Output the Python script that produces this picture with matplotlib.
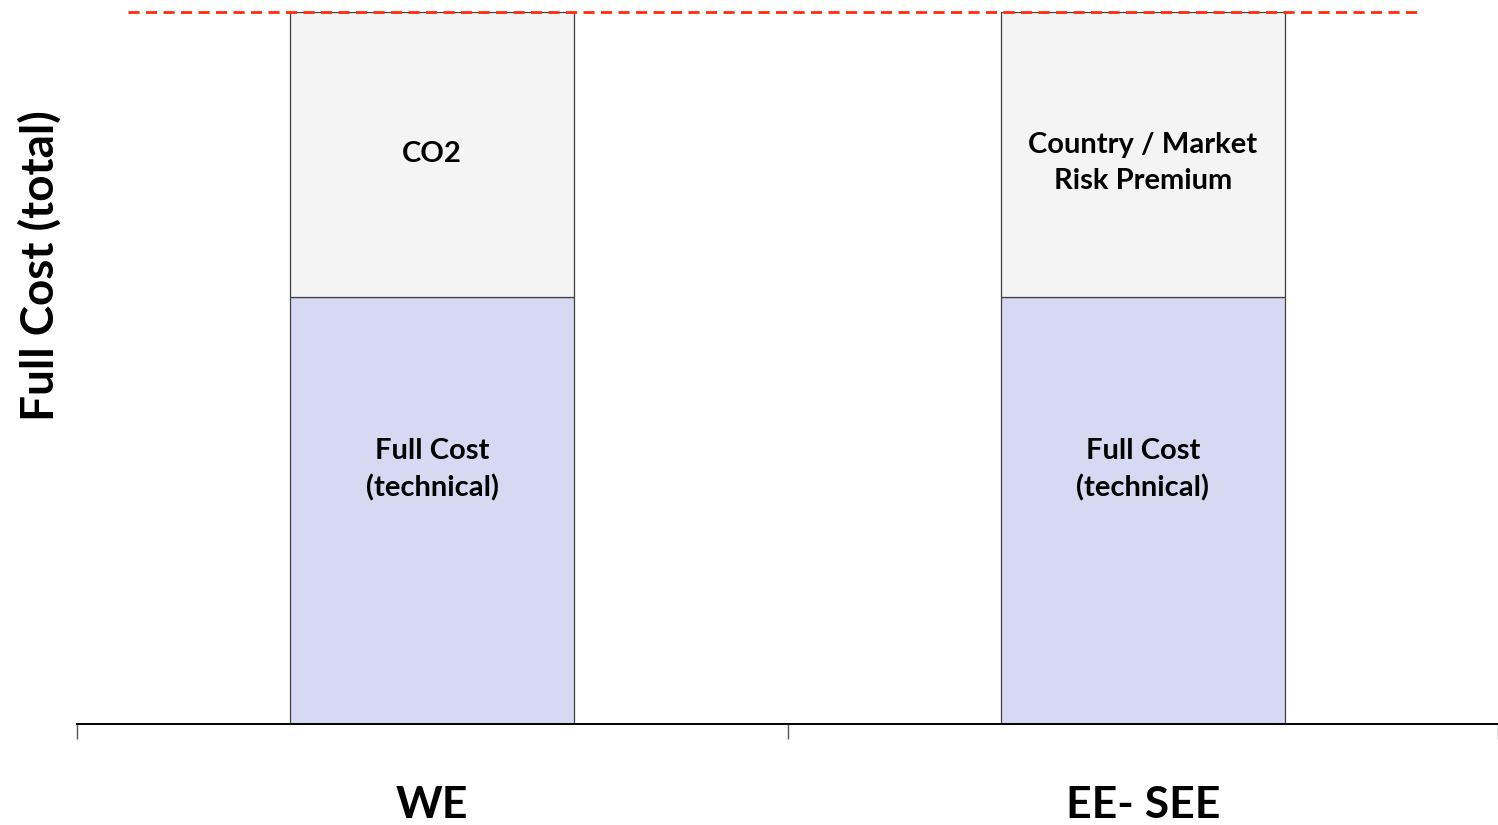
import matplotlib
matplotlib.use("Agg")
import matplotlib.pyplot as plt
import numpy as np

categories = ["WE", "EE- SEE"]
base_values = [60, 60]
top_values = [40, 40]
base_labels = ["Full Cost\n(technical)", "Full Cost\n(technical)"]
top_labels = ["CO2", "Country / Market\nRisk Premium"]
y_label = "Full Cost (total)"

plt.rcParams['font.family'] = ['Lato', 'DejaVu Sans']

W, H = 1498, 825
fig = plt.figure(figsize=(W / 100, H / 100), dpi=100)
ax = fig.add_axes([77 / W, 1 - 724 / H, (1498 - 77) / W, (724 - 12) / H])

x = np.arange(len(categories))
width = 0.4
ax.bar(x, base_values, width, color="#D7D8F2", edgecolor="#404040", linewidth=0.9)
ax.bar(x, top_values, width, bottom=base_values, color="#F4F4F4", edgecolor="#404040", linewidth=0.9)

total = max(b + t for b, t in zip(base_values, top_values))
ax.set_xlim(-0.5, len(categories) - 0.5)
ax.set_ylim(0, total)

for i in range(len(categories)):
    ax.text(x[i], base_values[i] * 0.595, base_labels[i], ha="center", va="center",
            fontsize=21, fontweight="bold", linespacing=1.45)
    ax.text(x[i], base_values[i] + top_values[i] * (0.5 if i == 0 else 0.47), top_labels[i],
            ha="center", va="center", fontsize=21, fontweight="bold", linespacing=1.45)

ax.axhline(total, xmin=(128 - 77) / 1421, xmax=(1420 - 77) / 1421, color="#FF2A10",
           linewidth=2.0, linestyle=(0, (4.0, 2.3)), clip_on=False, zorder=5)

for s in ["top", "right", "left"]:
    ax.spines[s].set_visible(False)
ax.spines["bottom"].set_linewidth(1.4)
ax.spines["bottom"].set_color("black")
ax.set_yticks([])
ax.set_xticks(x)
ax.set_xticklabels(categories, fontsize=32, fontweight="bold")
ax.tick_params(axis="x", which="major", length=0, pad=44)
ax.set_xticks(np.arange(-0.5, len(categories)), minor=True)
ax.tick_params(axis="x", which="minor", length=11, width=1, color="#555555")

fig.text(40 / W, 1 - 266 / H, y_label, rotation=90, ha="center", va="center",
         fontsize=33, fontweight="bold")

fig.savefig("out.png", dpi=100)
